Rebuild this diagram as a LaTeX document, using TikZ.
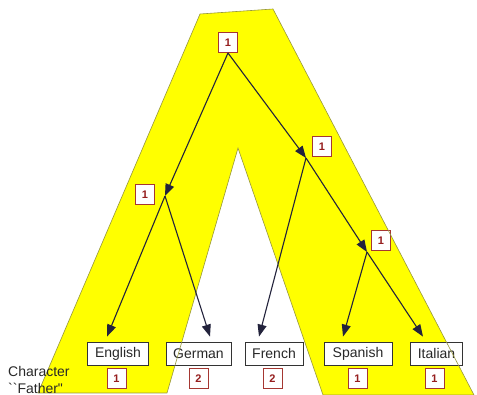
\documentclass[tikz,border=0pt]{standalone}
\usepackage{fontspec}
\setmainfont{Liberation Sans}
\usetikzlibrary{arrows.meta}
\definecolor{band}{RGB}{255,255,0}
\definecolor{bandedge}{RGB}{150,150,60}
\definecolor{edgeink}{RGB}{35,35,60}
\definecolor{countred}{RGB}{150,30,30}
\definecolor{countframe}{RGB}{165,55,50}
\definecolor{labelink}{RGB}{40,40,40}
\tikzset{
  leaf/.style={draw=black!80, fill=white, line width=0.8pt, text=labelink,
    font=\fontsize{14}{16}\selectfont, inner xsep=7.2pt, inner ysep=0pt,
    minimum height=23pt},
  count/.style={draw=countframe, fill=white, line width=1pt, text=countred,
    font=\fontsize{11}{12}\selectfont\bfseries, minimum width=19pt,
    minimum height=20pt, inner sep=0pt},
  branch/.style={draw=edgeink, line width=1.1pt},
  toward/.style={branch, -{Triangle[length=12pt,width=9pt]}},
  caption/.style={text=labelink, font=\fontsize{14}{16}\selectfont,
    inner sep=0pt, anchor=base west}
}
\begin{document}
\begin{tikzpicture}[x=1pt,y=-1pt]
\useasboundingbox (0,0) rectangle (477,395);

% the yellow inverted-V band: fill first, outline last
\def\bandpath{(200,14) -- (273,9) -- (474,395) -- (323,395) -- (238,148)
  -- (167,393) -- (38,393) -- cycle}
\fill[band] \bandpath;

% branch points of the tree
\coordinate (jL) at (165,196);
\coordinate (jR) at (306,158);
\coordinate (jM) at (367,252);

% counts at the inner nodes
\node[count] (root) at (228,42.5) {1};
\node[count] (cL) at (145,195) {1};
\node[count] (cR) at (322,147) {1};
\node[count] (cM) at (381,240.5) {1};

% leaves
\node[leaf] (en) at (118,353.5) {English};
\node[leaf] (ge) at (198.5,353.5) {German};
\node[leaf] (fr) at (274,353.5) {French};
\node[leaf, minimum width=68pt] (sp) at (358,353.5) {Spanish};
\node[leaf] (it) at (436.5,353.5) {Italian};

% counts under the leaves
\node[count] (nen) at (116.5,378.5) {1};
\node[count] (nge) at (198.5,378.5) {2};
\node[count] (nfr) at (272.5,378.5) {2};
\node[count] (nsp) at (357.5,378.5) {1};
\node[count] (nit) at (434.5,378.5) {1};

% band outline, over the leaf boxes
\draw[bandedge, line width=0.6pt] \bandpath;

% edges
\draw[toward] (root.south) -- (jL);
\draw[toward] (root.south) -- (jR);
\draw[toward] (jR) -- (jM);
\draw[toward] (jL) -- ([xshift=-11pt,yshift=5pt]en.north);
\draw[toward] (jL) -- ([xshift=11.5pt,yshift=5pt]ge.north);
\draw[toward] (jR) -- ([xshift=-15pt,yshift=5pt]fr.north);
\draw[toward] (jM) -- ([xshift=-15pt,yshift=5pt]sp.north);
\draw[toward] (jM) -- ([xshift=-13.5pt,yshift=5pt]it.north);

% row caption
\node[caption] (cap1) at (8,377) {Character};
\node[caption] (cap2) at (8,393.5) {\textasciigrave\textasciigrave Father\textquotedbl};
\end{tikzpicture}
\end{document}
